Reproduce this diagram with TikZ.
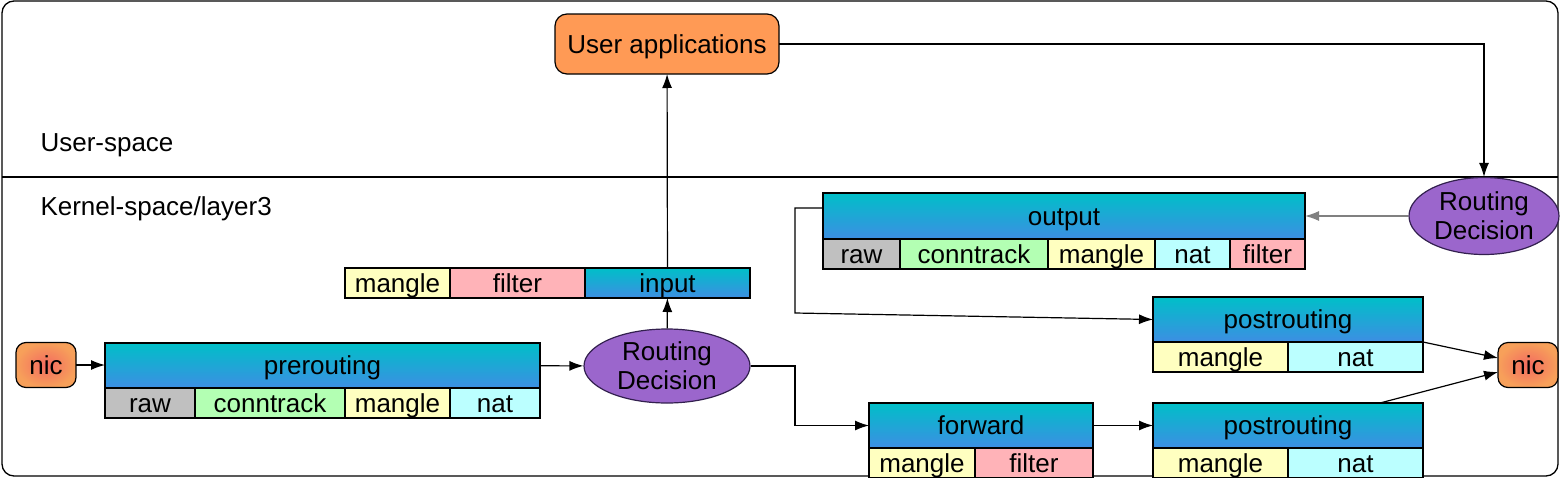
\documentclass[tikz,border=0pt]{standalone}
\usepackage{fontspec}
\setmainfont{Liberation Sans}
\usetikzlibrary{positioning,shapes.geometric,arrows.meta}

\definecolor{hdtop}{HTML}{00BFC8}
\definecolor{hdbot}{HTML}{3D8EE3}
\definecolor{appfill}{HTML}{FF9A55}
\definecolor{nicin}{HTML}{F36A60}
\definecolor{nicout}{HTML}{F7A05A}
\definecolor{rdfill}{HTML}{9B66CC}
\definecolor{rdline}{HTML}{33204F}
\definecolor{rawc}{HTML}{C0C0C0}
\definecolor{ctc}{HTML}{B3FFB3}
\definecolor{mglc}{HTML}{FFFFC0}
\definecolor{natc}{HTML}{BBFFFF}
\definecolor{fltc}{HTML}{FFB3B8}

\tikzset{
  txt/.style={text height=21pt, text depth=3pt, inner sep=0pt, outer sep=0pt},
  hdr/.style={txt, draw, line width=1.2pt, top color=hdtop, bottom color=hdbot, minimum height=45pt},
  cell/.style={txt, draw, line width=1.2pt, minimum height=30pt},
  rawcell/.style={cell, fill=rawc},
  ctcell/.style={cell, fill=ctc},
  mglcell/.style={cell, fill=mglc},
  natcell/.style={cell, fill=natc},
  fltcell/.style={cell, fill=fltc},
  nicbox/.style={txt, draw, line width=1.2pt, rounded corners=10pt, inner color=nicin, outer color=nicout, minimum width=60pt, minimum height=45pt},
  decision/.style={ellipse, draw=rdline, line width=1.2pt, fill=rdfill, align=center, inner sep=0pt},
  arr/.style={-{Latex[length=14pt,width=10pt]}, line width=1.2pt},
}

\begin{document}
\begin{tikzpicture}[x=1pt, y=-1pt, font=\fontsize{26}{29}\selectfont]
	\useasboundingbox (0,0) rectangle (1561,477);

	% frame and the two spaces
	\draw[line width=1.3pt, rounded corners=12pt] (2,1) rectangle (1558,476);
	\draw[line width=1.3pt] (2,177) -- (1558,177);
	\node[anchor=west] (uspace) at (37,145) {User-space};
	\node[anchor=west] (kspace) at (37,209) {Kernel-space/layer3};

	\node[txt, draw, line width=1.2pt, rounded corners=12pt, fill=appfill, minimum width=224pt, minimum height=60pt] (user) at (667,44) {User applications};

	% incoming
	\node[nicbox] (nicL) at (46,365) {nic};
	\node[hdr, minimum width=435pt, anchor=north west] (pre) at (105,343) {prerouting};
	\node[rawcell, minimum width=90pt, below right=0pt of pre.south west] (preraw) {raw};
	\node[ctcell, minimum width=150pt, right=0pt of preraw] (prect) {conntrack};
	\node[mglcell, minimum width=105pt, right=0pt of prect] (premgl) {mangle};
	\node[natcell, minimum width=90pt, right=0pt of premgl] (prenat) {nat};

	\node[decision, minimum width=166pt, minimum height=74pt] (rd1) at (667,366) {Routing\\Decision};

	\node[mglcell, minimum width=105pt, anchor=north west] (inmgl) at (345,268) {mangle};
	\node[fltcell, minimum width=135pt, right=0pt of inmgl] (inflt) {filter};
	\node[hdr, minimum width=165pt, minimum height=30pt, right=0pt of inflt] (input) {input};

	% forward
	\node[hdr, minimum width=224pt, anchor=north west] (fwd) at (869,403) {forward};
	\node[mglcell, minimum width=106pt, below right=0pt of fwd.south west] (fwdmgl) {mangle};
	\node[fltcell, minimum width=118pt, right=0pt of fwdmgl] (fwdflt) {filter};

	\node[hdr, minimum width=270pt, anchor=north west] (post2) at (1153,403) {postrouting};
	\node[mglcell, minimum width=135pt, below right=0pt of post2.south west] (post2mgl) {mangle};
	\node[natcell, minimum width=135pt, right=0pt of post2mgl] (post2nat) {nat};

	% outgoing
	\node[decision, minimum width=150pt, minimum height=77pt] (rd2) at (1484,216) {Routing\\Decision};

	\node[hdr, minimum width=482pt, minimum height=46pt, anchor=north west] (out) at (823,193) {output};
	\node[rawcell, minimum width=77pt, below right=0pt of out.south west] (outraw) {raw};
	\node[ctcell, minimum width=148pt, right=0pt of outraw] (outct) {conntrack};
	\node[mglcell, minimum width=107pt, right=0pt of outct] (outmgl) {mangle};
	\node[natcell, minimum width=75pt, right=0pt of outmgl] (outnat) {nat};
	\node[fltcell, minimum width=75pt, right=0pt of outnat] (outflt) {filter};

	\node[hdr, minimum width=270pt, anchor=north west] (post1) at (1153,297) {postrouting};
	\node[mglcell, minimum width=135pt, below right=0pt of post1.south west] (post1mgl) {mangle};
	\node[natcell, minimum width=135pt, right=0pt of post1mgl] (post1nat) {nat};

	\node[nicbox] (nicR) at (1528,365) {nic};

	\coordinate (oturn) at (795,313);

	\path [arr] (nicL) edge (nicL -| pre.west);
	\path [arr] (pre) edge (rd1);
	\path [arr] (rd1) edge (input);
	\path [arr] (input) edge (user);
	\draw [arr] (user) -| (rd2);
	\draw [arr, draw=gray, fill=gray] (rd2) -- (rd2 -| out.east);
	\draw [arr] (out.west |- 0,208) -| (oturn) -- (post1.west);
	\draw [arr] (rd1.east) -- (rd1.east -| oturn) |- (fwd.west);
	\path [arr] (fwd) edge (post2);
	\path [arr] (post1.south east) edge ([yshift=7pt]nicR.west);
	\path [arr] ([xshift=-43pt]post2.north east) edge ([yshift=-7pt]nicR.west);
\end{tikzpicture}
\end{document}
